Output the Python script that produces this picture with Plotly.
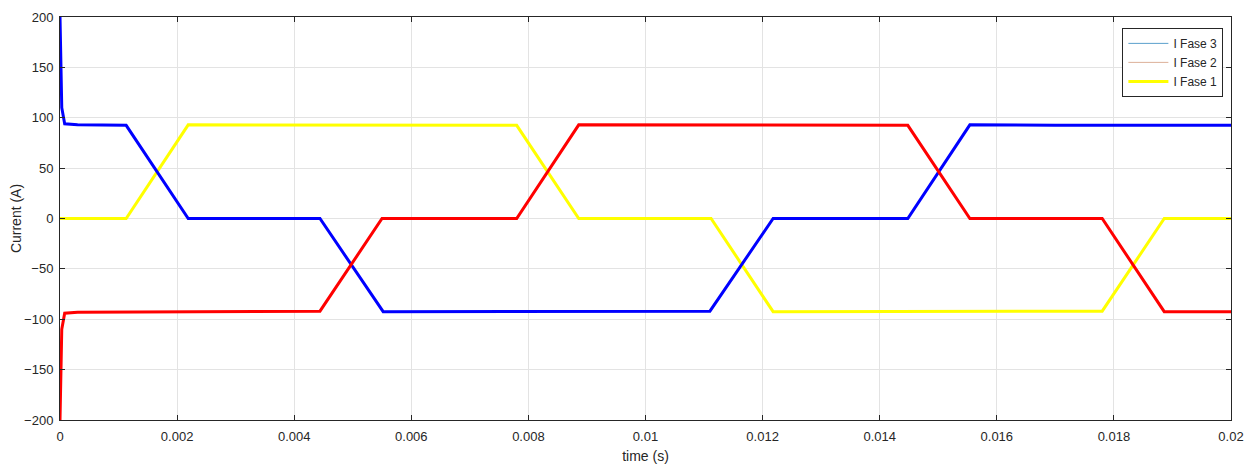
import plotly.graph_objects as go

# Phase 3 (blue)
t3 = [0.0, 0.00003, 0.00008, 0.0003, 0.00113, 0.00219, 0.00444, 0.00552, 0.0111, 0.01218, 0.01448, 0.01554, 0.017, 0.02]
i3 = [200, 110, 94, 93, 92.5, 0, 0, -92.5, -92, 0, 0, 93, 92.5, 92.5]
# Phase 2 (red)
t2 = [0.0, 0.00003, 0.00008, 0.0003, 0.00444, 0.0055, 0.0078, 0.00886, 0.01448, 0.01554, 0.0178, 0.01886, 0.02]
i2 = [-200, -110, -94, -93, -92, 0, 0, 93, 92.5, 0, 0, -92.5, -92.5]
# Phase 1 (yellow)
t1 = [0.0, 0.00113, 0.00219, 0.0078, 0.00886, 0.01112, 0.01218, 0.0178, 0.01886, 0.02]
i1 = [0, 0, 93, 92.5, 0, 0, -92.5, -92, 0, 0]

xticks = [0, 0.002, 0.004, 0.006, 0.008, 0.01, 0.012, 0.014, 0.016, 0.018, 0.02]
xticklabels = ["0", "0.002", "0.004", "0.006", "0.008", "0.01", "0.012", "0.014", "0.016", "0.018", "0.02"]
yticks = [-200, -150, -100, -50, 0, 50, 100, 150, 200]

FONT = "Liberation Sans, Arial, sans-serif"
TXT = "#262626"

fig = go.Figure()
fig.add_trace(go.Scatter(x=t1, y=i1, mode="lines", line=dict(color="#FFFF00", width=3), showlegend=False))
fig.add_trace(go.Scatter(x=t3, y=i3, mode="lines", line=dict(color="#0000FF", width=3), showlegend=False))
fig.add_trace(go.Scatter(x=t2, y=i2, mode="lines", line=dict(color="#FF0000", width=3), showlegend=False))

# legend entries (as shown in the reference legend)
fig.add_trace(go.Scatter(x=[None], y=[None], mode="lines", name="I Fase 3", line=dict(color="#5aa0cc", width=1)))
fig.add_trace(go.Scatter(x=[None], y=[None], mode="lines", name="I Fase 2", line=dict(color="#dcb098", width=1)))
fig.add_trace(go.Scatter(x=[None], y=[None], mode="lines", name="I Fase 1", line=dict(color="#FFFF00", width=3)))

axis_common = dict(
    showline=True, linecolor=TXT, linewidth=1, mirror="ticks",
    ticks="inside", ticklen=5, tickcolor=TXT,
    showgrid=True, gridcolor="#e3e3e3", gridwidth=1,
    zeroline=False, automargin=False,
    tickfont=dict(family=FONT, size=13, color=TXT),
)

# page body has an 8px margin; figure is offset accordingly
fig.update_layout(
    width=1246, height=456,
    margin=dict(l=52, r=23, t=9, b=44),
    paper_bgcolor="white", plot_bgcolor="white",
    xaxis=dict(range=[0, 0.02], tickvals=xticks, ticktext=xticklabels,
               ticklabelstandoff=4,
               title=dict(text="time (s)", standoff=8,
                          font=dict(family=FONT, size=14, color=TXT)),
               **axis_common),
    yaxis=dict(range=[-200, 200], tickvals=yticks,
               ticklabelstandoff=3,
               title=dict(text="Current (A)", standoff=4,
                          font=dict(family=FONT, size=14, color=TXT)),
               **axis_common),
    legend=dict(x=0.9935, y=0.973, xanchor="right", yanchor="top",
                bgcolor="white", bordercolor=TXT, borderwidth=1,
                font=dict(family=FONT, size=12, color=TXT),
                tracegroupgap=0, itemwidth=40),
)

fig.write_html("out.html")
